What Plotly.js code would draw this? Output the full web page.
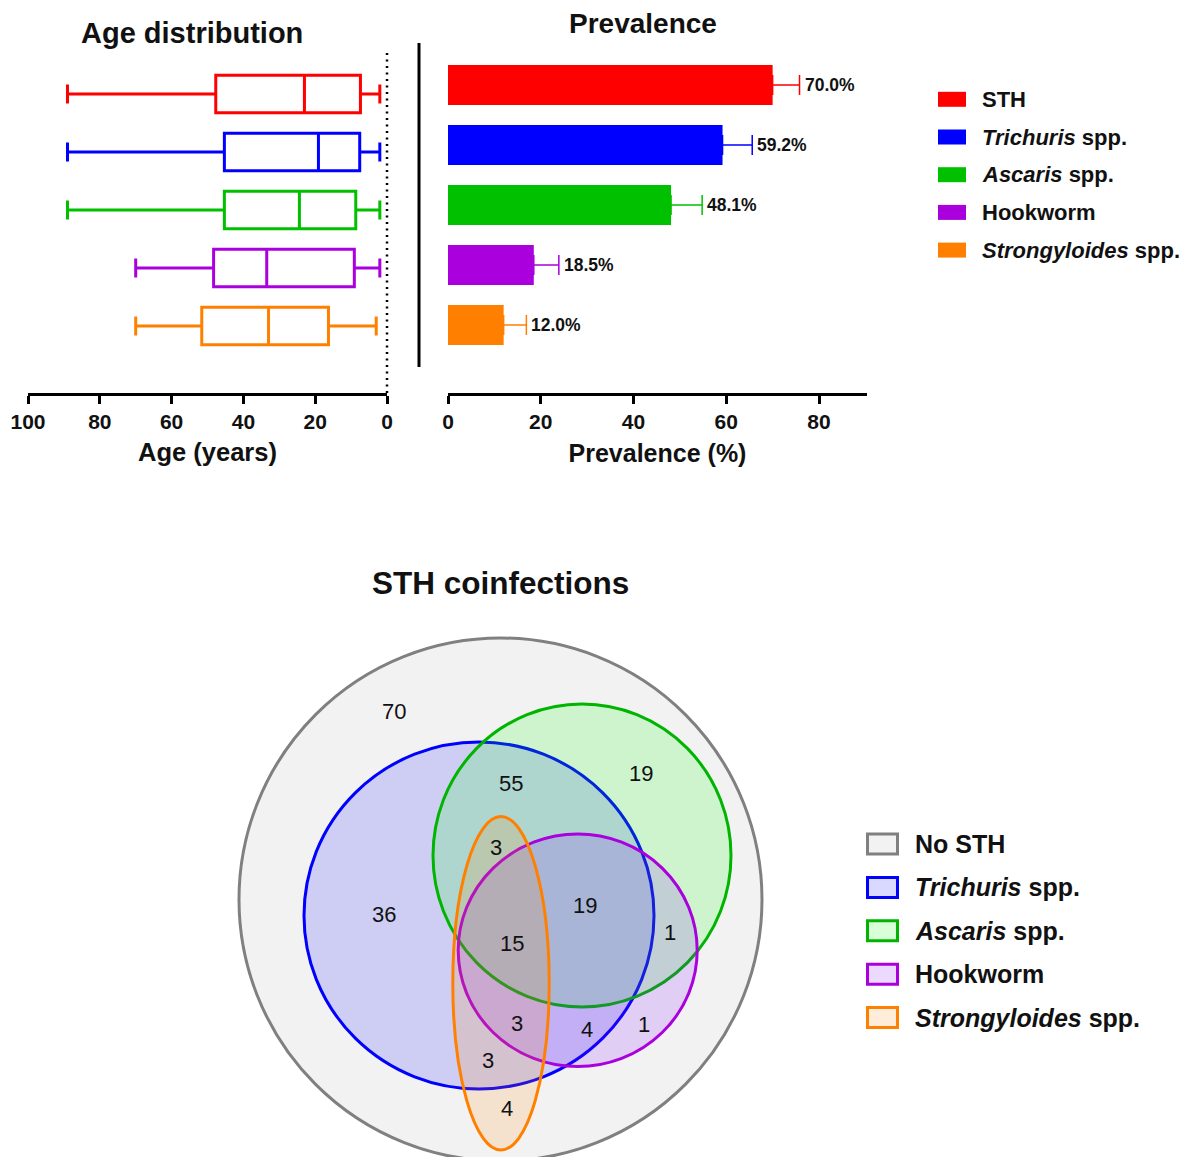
<!DOCTYPE html>
<html><head><meta charset="utf-8">
<script src="https://cdn.plot.ly/plotly-3.0.1.min.js"></script>
<style>html,body{margin:0;padding:0;background:#fff}</style>
</head><body><div id="chart" style="width:1186px;height:1157px"></div>
<script>
// ---------------- DATA ----------------
const groups = ['STH', 'Trichuris spp.', 'Ascaris spp.', 'Hookworm', 'Strongyloides spp.'];
const groupLabels = ['STH', '<i>Trichuris</i> spp.', '<i>Ascaris</i> spp.', 'Hookworm', '<i>Strongyloides</i> spp.'];
const groupColors = ['#ff0000', '#0000ff', '#00c000', '#aa00dd', '#ff8000'];

// Age distribution (years): min, Q1, median, Q3, max
const ageMin = [2, 2, 2, 2, 3];
const ageQ1 = [7.4, 7.6, 8.7, 9.1, 16.3];
const ageMedian = [23.0, 19.1, 24.4, 33.5, 33.0];
const ageQ3 = [47.7, 45.3, 45.3, 48.3, 51.6];
const ageMax = [89, 89, 89, 70, 70];
const ageTicks = [100, 80, 60, 40, 20, 0];

// Prevalence (%) and upper error
const prevalence = [70.0, 59.2, 48.1, 18.5, 12.0];
const prevalenceErr = [5.8, 6.4, 6.7, 5.4, 4.9];
const prevTicks = [0, 20, 40, 60, 80];

// Venn (coinfections)
const vennSets = ['No STH', 'Trichuris spp.', 'Ascaris spp.', 'Hookworm', 'Strongyloides spp.'];
const vennSetLabels = ['No STH', '<i>Trichuris</i> spp.', '<i>Ascaris</i> spp.', 'Hookworm', '<i>Strongyloides</i> spp.'];
const vennLineColors = ['#808080', '#0000ff', '#00b400', '#aa00dd', '#ff8000'];
const vennFillColors = ['#f2f2f2', 'rgba(0,0,255,0.15)', 'rgba(0,255,0,0.15)', 'rgba(128,0,255,0.15)', 'rgba(255,128,0,0.15)'];
const regionCounts = [70, 55, 19, 36, 3, 19, 15, 1, 3, 4, 1, 3, 4];

// ---------------- GEOMETRY (layout only) ----------------
const W = 1186, H = 1157;
const px = v => v / W;
const py = v => 1 - v / H;
const FONT = 'Arial, "Liberation Sans", Helvetica, sans-serif';

// Venn ellipse geometry (diagram units, centred on the outer circle)
const vennCx = [0, -21.5, 81.5, 77.2, 0.5];
const vennCy = [0, 16, -44, 50.8, 83.8];
const vennRx = [261.5, 175, 149, 119.5, 48.2];
const vennRy = [261.5, 173.5, 151.5, 116.3, 166.7];
const regionX = [-107, 10, 140.5, -116.5, -4.5, 84.5, 11, 169.5, 16.5, 86, 143, -13, 6];
const regionY = [-188, -116, -126, 15, -52, 6, 43.5, 33, 124, 129.5, 124.5, 160.5, 209];

const traces = [];
groups.forEach((g, i) => {
  traces.push({
    type: 'box', orientation: 'h', xaxis: 'x', yaxis: 'y',
    y: [g], q1: [ageQ1[i]], median: [ageMedian[i]], q3: [ageQ3[i]],
    lowerfence: [ageMin[i]], upperfence: [ageMax[i]],
    boxpoints: false, width: 0.65, whiskerwidth: 0.5,
    line: {color: groupColors[i], width: 3},
    fillcolor: 'rgba(0,0,0,0)', hoverinfo: 'skip', showlegend: false
  });
  traces.push({
    type: 'bar', orientation: 'h', xaxis: 'x2', yaxis: 'y2',
    y: [g], x: [prevalence[i]], width: 0.667,
    marker: {color: groupColors[i], line: {width: 0}},
    error_x: {type: 'data', symmetric: false, array: [prevalenceErr[i]], arrayminus: [0],
              color: groupColors[i], thickness: 1.5, width: 10},
    hoverinfo: 'skip', showlegend: false
  });
});

const shapes = [];
const annotations = [];

// detached y-axis line of prevalence panel
shapes.push({type: 'line', xref: 'paper', yref: 'paper', x0: px(419), x1: px(419), y0: py(43), y1: py(367),
             line: {color: '#000', width: 3}});
// dotted zero line in age panel
shapes.push({type: 'line', xref: 'paper', yref: 'paper', x0: px(387), x1: px(387), y0: py(53), y1: py(393),
             line: {color: '#000', width: 2.5, dash: '2px,4.5px'}});

// Venn ellipses
vennSets.forEach((s, i) => {
  shapes.push({type: 'circle', xref: 'x3', yref: 'y3',
    x0: vennCx[i] - vennRx[i], x1: vennCx[i] + vennRx[i],
    y0: vennCy[i] - vennRy[i], y1: vennCy[i] + vennRy[i],
    fillcolor: vennFillColors[i], line: {color: vennLineColors[i], width: 3}});
});
regionCounts.forEach((c, i) => {
  annotations.push({xref: 'x3', yref: 'y3', x: regionX[i], y: regionY[i], text: String(c),
    showarrow: false, xanchor: 'center', yanchor: 'middle',
    font: {family: FONT, size: 22, color: '#111'}});
});

// Bar value labels
groups.forEach((g, i) => {
  annotations.push({xref: 'x2', yref: 'y2', x: prevalence[i] + prevalenceErr[i], y: g,
    text: '<b>' + prevalence[i].toFixed(1) + '%</b>', showarrow: false,
    xanchor: 'left', yanchor: 'middle', xshift: 3,
    font: {family: FONT, size: 17.5, color: '#111'}});
});

// Legend 1 (bars)
groupLabels.forEach((lab, i) => {
  const cy = 99.3 + i * 37.7;
  shapes.push({type: 'rect', xref: 'paper', yref: 'paper', x0: px(938), x1: px(966),
    y0: py(cy - 7.5), y1: py(cy + 7.5), fillcolor: groupColors[i], line: {width: 0}});
  annotations.push({xref: 'paper', yref: 'paper', x: px(980), y: py(cy), text: '<b>' + lab + '</b>',
    showarrow: false, xanchor: 'left', yanchor: 'middle', font: {family: FONT, size: 22, color: '#111'}});
});

// Legend 2 (Venn)
vennSetLabels.forEach((lab, i) => {
  const cy = 844 + i * 43.4;
  shapes.push({type: 'rect', xref: 'paper', yref: 'paper', x0: px(867.5), x1: px(897.5),
    y0: py(cy - 10), y1: py(cy + 10), fillcolor: vennFillColors[i],
    line: {color: vennLineColors[i], width: 3}});
  annotations.push({xref: 'paper', yref: 'paper', x: px(913), y: py(cy), text: '<b>' + lab + '</b>',
    showarrow: false, xanchor: 'left', yanchor: 'middle', font: {family: FONT, size: 25, color: '#111'}});
});

// Titles
annotations.push({xref: 'paper', yref: 'paper', x: px(192), y: py(33), text: '<b>Age distribution</b>',
  showarrow: false, xanchor: 'center', yanchor: 'middle', font: {family: FONT, size: 29, color: '#111'}});
annotations.push({xref: 'paper', yref: 'paper', x: px(643), y: py(23), text: '<b>Prevalence</b>',
  showarrow: false, xanchor: 'center', yanchor: 'middle', font: {family: FONT, size: 28, color: '#111'}});
annotations.push({xref: 'paper', yref: 'paper', x: px(500), y: py(583), text: '<b>STH coinfections</b>',
  showarrow: false, xanchor: 'center', yanchor: 'middle', font: {family: FONT, size: 31.5, color: '#111'}});

const axStyle = {
  showline: true, linewidth: 3, linecolor: '#000', ticks: 'outside', ticklen: 8, tickwidth: 3,
  tickcolor: '#000', showgrid: false, zeroline: false, fixedrange: true,
  tickfont: {family: FONT, size: 21, color: '#111', weight: 'bold'}
};
const hiddenY = {type: 'category', categoryorder: 'array', categoryarray: groups,
  showticklabels: false, showline: false, showgrid: false, zeroline: false, ticks: '', fixedrange: true};

const layout = {
  width: W, height: H, margin: {l: 0, r: 0, t: 0, b: 0},
  paper_bgcolor: '#fff', plot_bgcolor: 'rgba(0,0,0,0)', showlegend: false,
  boxmode: 'overlay', barmode: 'overlay',
  font: {family: FONT, color: '#111'},
  xaxis: Object.assign({}, axStyle, {domain: [px(28), px(387)], range: [100, 0], tickvals: ageTicks,
    anchor: 'y', title: {text: '<b>Age (years)</b>', font: {family: FONT, size: 25.5, color: '#111'}, standoff: 11}}),
  yaxis: Object.assign({}, hiddenY, {domain: [py(393), py(53)], range: [5.155, -0.707], anchor: 'x'}),
  xaxis2: Object.assign({}, axStyle, {domain: [px(448), px(867)], range: [0, 90.35], tickvals: prevTicks,
    anchor: 'y2', title: {text: '<b>Prevalence (%)</b>', font: {family: FONT, size: 25, color: '#111'}, standoff: 13}}),
  yaxis2: Object.assign({}, hiddenY, {domain: [py(393), py(43)], range: [5.133, -0.7], anchor: 'x2'}),
  xaxis3: {domain: [px(200.5), px(800.5)], range: [-300, 300], visible: false, fixedrange: true, anchor: 'y3'},
  yaxis3: {domain: [0, py(620)], range: [257.5, -279.5], visible: false, fixedrange: true, anchor: 'x3'},
  shapes: shapes, annotations: annotations
};

Plotly.newPlot('chart', traces, layout, {displayModeBar: false, staticPlot: true});
</script></body></html>
